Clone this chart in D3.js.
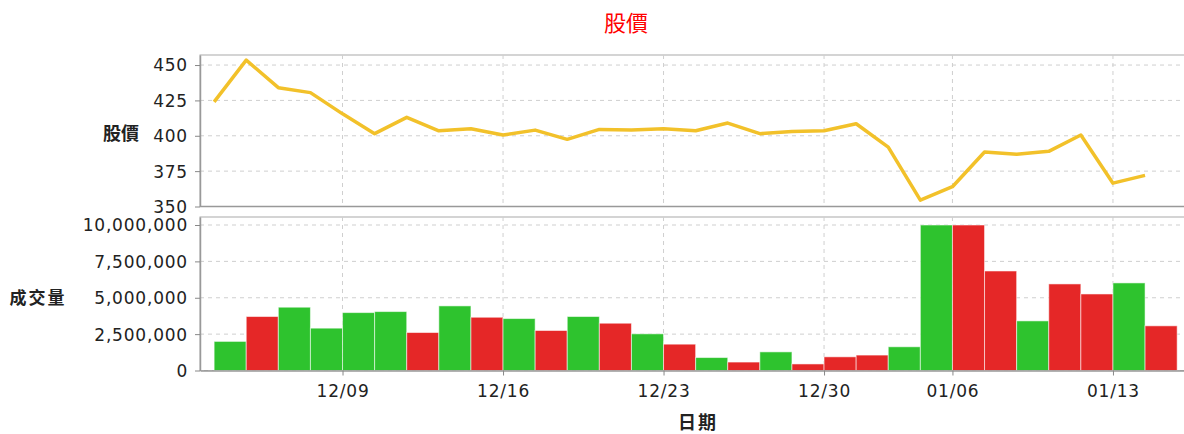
<!DOCTYPE html>
<html>
<head>
<meta charset="utf-8">
<title>股價</title>
<script src="https://d3js.org/d3.v7.min.js"></script>
<style>
    body { margin: 0; background: #fff; }
    svg { display: block; }
    .tick text { font-family: "DejaVu Sans", sans-serif; font-size: 17px; fill: #222; letter-spacing: 0.8px; }
    .cjk { font-family: "Noto Sans CJK TC", sans-serif; }
</style>
</head>
<body>
<svg width="1184" height="434"></svg>
<script>
    // trading days shown on the chart
    const dates = ["12/03", "12/04", "12/05", "12/06", "12/09", "12/10", "12/11", "12/12", "12/13",
        "12/16", "12/17", "12/18", "12/19", "12/20", "12/23", "12/24", "12/25", "12/26", "12/27",
        "12/30", "12/31", "01/02", "01/03", "01/06", "01/07", "01/08", "01/09", "01/10", "01/13", "01/14"];
    // closing price
    const prices = [424, 453.5, 434, 430.5, 415.5, 401.5, 413, 403.5, 405, 400.5,
        404, 397.5, 404.5, 404, 405, 403.5, 409, 401.5, 403, 403.5,
        408.5, 392, 354.5, 364, 388.5, 387, 389, 400.5, 366.5, 372];
    // traded volume
    const volumes = [2.0e6, 3.71e6, 4.35e6, 2.91e6, 3.98e6, 4.05e6, 2.61e6, 4.44e6, 3.66e6, 3.57e6,
        2.75e6, 3.71e6, 3.25e6, 2.52e6, 1.81e6, 0.89e6, 0.58e6, 1.28e6, 0.45e6, 0.94e6,
        1.06e6, 1.63e6, 10.0e6, 10.0e6, 6.84e6, 3.41e6, 5.95e6, 5.26e6, 6.02e6, 3.07e6];
    // bar colour as read: u = red (up), d = green (down)
    const updown = ["d", "u", "d", "d", "d", "d", "u", "d", "u", "d",
        "u", "d", "u", "d", "u", "d", "u", "d", "u", "u",
        "u", "d", "d", "u", "u", "d", "u", "u", "d", "u"];
    const dateTicks = ["12/09", "12/16", "12/23", "12/30", "01/06", "01/13"];
    const priceTicks = [350, 375, 400, 425, 450];
    const volumeTicks = [0, 2.5e6, 5e6, 7.5e6, 10e6];

    const svg = d3.select("svg");
    const left = 200, right = 1190;
    const top1 = 55, bot1 = 206.5, top2 = 217, bot2 = 370.5;

    const x = d3.scaleLinear().domain([-0.44, 30.4]).range([left, right]);
    const yP = d3.scaleLinear().domain([350, 457.1]).range([bot1, top1]);
    const yV = d3.scaleLinear().domain([0, 10.55e6]).range([bot2, top2]);
    const tickIdx = dateTicks.map(d => dates.indexOf(d));

    // title
    svg.append("text").attr("class", "cjk")
        .attr("x", 626).attr("y", 31)
        .attr("text-anchor", "middle")
        .attr("font-size", 22).attr("fill", "#ff0000")
        .text("股價");

    function panel(top, bot, yScale, yTicks, fmt) {
        const g = svg.append("g");
        g.append("rect")
            .attr("x", left).attr("y", top)
            .attr("width", right - left).attr("height", bot - top)
            .attr("fill", "#fff").attr("stroke", "#aaa");
        // grid
        g.selectAll(".hg").data(yTicks).join("line")
            .attr("x1", left).attr("x2", right)
            .attr("y1", d => yScale(d)).attr("y2", d => yScale(d))
            .attr("stroke", "#cfcfcf").attr("stroke-dasharray", "4,4");
        g.selectAll(".vg").data(tickIdx).join("line")
            .attr("x1", d => x(d)).attr("x2", d => x(d))
            .attr("y1", top).attr("y2", bot)
            .attr("stroke", "#cfcfcf").attr("stroke-dasharray", "4,4");
        // y axis
        const ax = g.append("g").attr("transform", `translate(${left},0)`)
            .call(d3.axisLeft(yScale).tickValues(yTicks).tickFormat(fmt).tickSize(5).tickSizeOuter(0));
        ax.select(".domain").attr("stroke", "#999").attr("stroke-width", 1.5);
        ax.selectAll(".tick line").attr("stroke", "#888");
        ax.selectAll(".tick text").attr("x", -12).attr("dy", "0.35em");
        return g;
    }

    panel(top1, bot1, yP, priceTicks, d3.format("d"));
    const g2 = panel(top2, bot2, yV, volumeTicks, d3.format(","));

    // bottom line of top panel
    svg.append("line").attr("x1", left).attr("x2", right)
        .attr("y1", bot1).attr("y2", bot1)
        .attr("stroke", "#999").attr("stroke-width", 1.5);

    // volume bars
    g2.selectAll(".bar").data(volumes).join("rect")
        .attr("x", (d, i) => x(i))
        .attr("width", (d, i) => x(i + 1) - x(i))
        .attr("y", d => yV(d))
        .attr("height", d => yV(0) - yV(d))
        .attr("fill", (d, i) => updown[i] === "u" ? "#e52727" : "#2ec32e")
        .attr("stroke", "rgba(255,255,255,0.55)")
        .attr("stroke-width", 1);

    // x axis
    const xa = svg.append("g").attr("transform", `translate(0,${bot2})`)
        .call(d3.axisBottom(x).tickValues(tickIdx).tickFormat(i => dates[i]).tickSize(5).tickSizeOuter(0));
    xa.select(".domain").attr("stroke", "#999").attr("stroke-width", 1.5);
    xa.selectAll(".tick line").attr("stroke", "#888");
    xa.selectAll(".tick text").attr("y", 14);

    // price line
    svg.append("path")
        .datum(prices)
        .attr("d", d3.line().x((d, i) => x(i)).y(d => yP(d)))
        .attr("fill", "none")
        .attr("stroke", "#f2c12a")
        .attr("stroke-width", 3.5)
        .attr("stroke-linejoin", "round");

    // axis titles
    svg.append("text").attr("class", "cjk")
        .attr("x", 121).attr("y", 140).attr("text-anchor", "middle")
        .attr("font-size", 18).attr("font-weight", "bold").attr("fill", "#222")
        .text("股價");
    svg.append("text").attr("class", "cjk")
        .attr("x", 38).attr("y", 304).attr("text-anchor", "middle")
        .attr("font-size", 17).attr("font-weight", "bold").attr("fill", "#222")
        .attr("letter-spacing", 2)
        .text("成交量");
    svg.append("text").attr("class", "cjk")
        .attr("x", 698).attr("y", 429).attr("text-anchor", "middle")
        .attr("font-size", 18).attr("font-weight", "bold").attr("fill", "#222")
        .attr("letter-spacing", 2)
        .text("日期");
</script>
</body>
</html>
